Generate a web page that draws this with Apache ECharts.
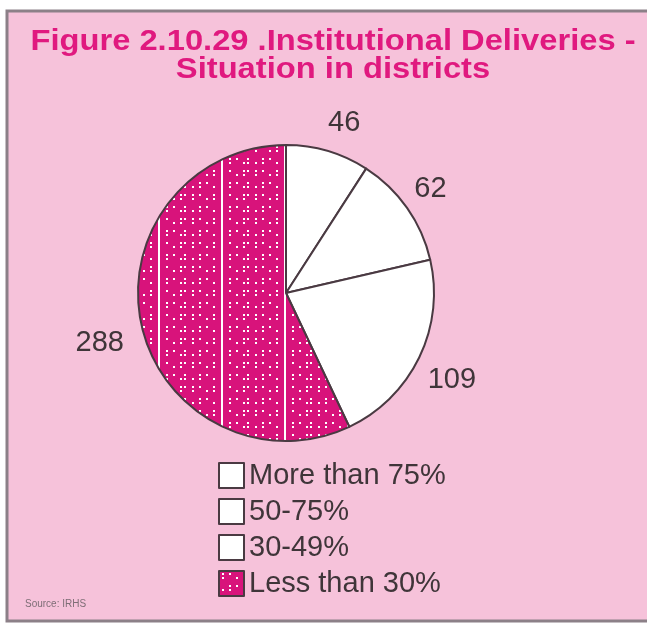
<!DOCTYPE html>
<html>
<head>
<meta charset="utf-8">
<script src="https://cdn.jsdelivr.net/npm/echarts@6/dist/echarts.min.js"></script>
<style>
html,body{margin:0;padding:0;background:#ffffff;}
#chart{width:647px;height:624px;}
</style>
</head>
<body>
<div id="chart"></div>
<script>
var categories = ['More than 75%', '50-75%', '30-49%', 'Less than 30%'];
var values = [46, 62, 109, 288];
var titleLines = ['Figure 2.10.29 .Institutional Deliveries -', 'Situation in districts'];
var sourceText = 'Source: IRHS';

// small label nudges (style only)
var labelNudge = [[-9, -14], [-10, -10], [-10, 16], [2, 14]];

function makePattern() {
  var c = document.createElement('canvas');
  c.width = 63; c.height = 24;
  var g = c.getContext('2d');
  g.fillStyle = '#d8137b';
  g.fillRect(0, 0, 63, 24);
  g.fillStyle = '#ffffff';
  g.fillRect(32, 0, 2, 24);
  var xs = [3, 10, 17, 24, 40, 47, 54, 58];
  var ys = [2, 6, 14, 18];
  for (var i = 0; i < xs.length; i++) {
    for (var j = 0; j < ys.length; j++) {
      if ((i + j) % 3 === 2) continue;
      g.fillRect(xs[i], ys[j], 2, 2);
    }
  }
  return c;
}
var pat = makePattern();
var fills = ['#ffffff', '#ffffff', '#ffffff', {image: pat, repeat: 'repeat'}];
var FONT = '"Liberation Sans", Arial, sans-serif';

var chart = echarts.init(document.getElementById('chart'), null, {renderer: 'canvas'});
var option = {
  backgroundColor: '#ffffff',
  animation: false,
  graphic: [
    {type: 'rect', shape: {x: 7, y: 11, width: 645, height: 610},
     style: {fill: '#f6c2da', stroke: '#8c8088', lineWidth: 3}, z: -10},
    {type: 'text', x: 333, y: 42, scaleX: 1.09,
     style: {text: titleLines[0], fill: '#e0197f', font: 'bold 30px ' + FONT, align: 'center', verticalAlign: 'middle'}},
    {type: 'text', x: 333, y: 70, scaleX: 1.09,
     style: {text: titleLines[1], fill: '#e0197f', font: 'bold 30px ' + FONT, align: 'center', verticalAlign: 'middle'}},
    {type: 'text', x: 25, y: 604,
     style: {text: sourceText, fill: '#7e6e76', font: '10px ' + FONT, verticalAlign: 'middle'}}
  ],
  legend: {
    orient: 'vertical',
    left: 213,
    top: 456,
    itemWidth: 25,
    itemHeight: 25,
    itemGap: 7,
    icon: 'rect',
    data: categories,
    textStyle: {fontSize: 29, lineHeight: 25, color: '#3f3539', fontFamily: FONT, padding: [0, 0, 0, 0]},
    selectedMode: false
  },
  series: [{
    type: 'pie',
    center: [286, 293],
    radius: [0, 148],
    startAngle: 90,
    clockwise: true,
    avoidLabelOverlap: false,
    itemStyle: {borderColor: '#4a3a42', borderWidth: 2},
    label: {
      show: true,
      position: 'outside',
      formatter: '{c}',
      fontSize: 29,
      color: '#3f3539',
      fontFamily: FONT
    },
    labelLine: {show: false, length: 15, length2: 0},
    labelLayout: function (p) {
      var n = labelNudge[p.dataIndex];
      return {dx: n[0], dy: n[1]};
    },
    data: categories.map(function (n, i) {
      return {name: n, value: values[i], itemStyle: {color: fills[i]}};
    })
  }]
};
chart.setOption(option);
</script>
</body>
</html>
